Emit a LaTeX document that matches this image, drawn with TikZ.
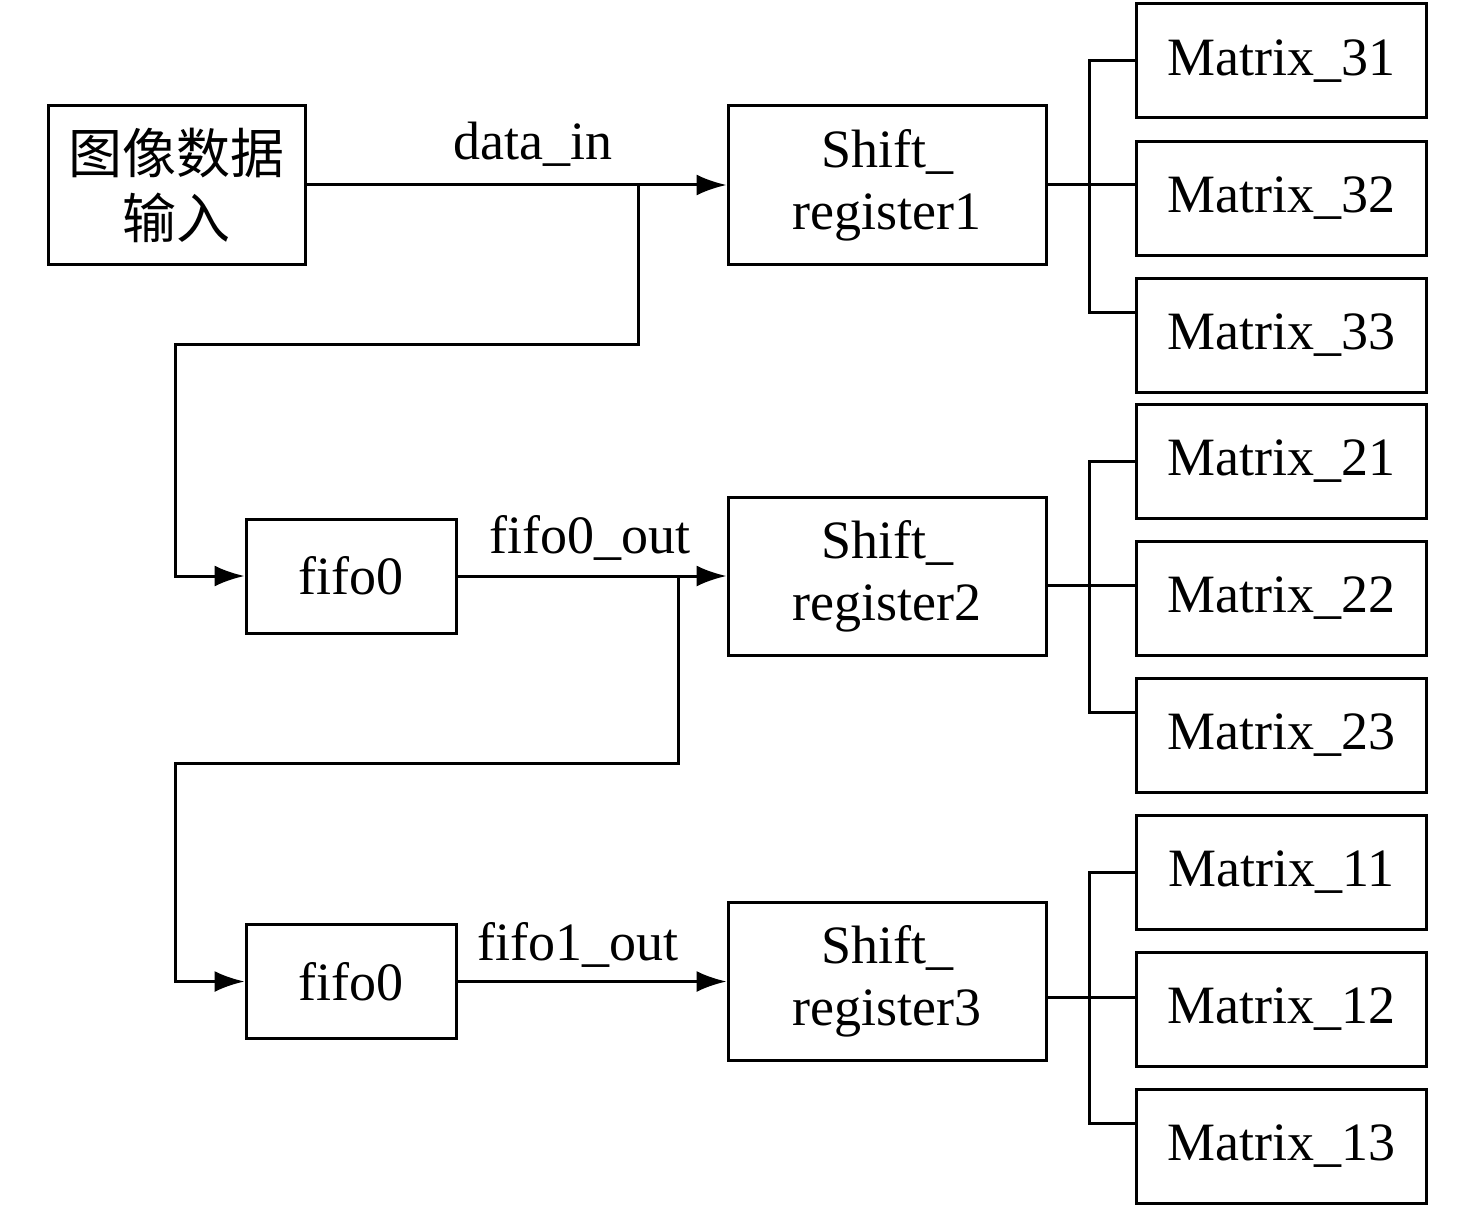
\documentclass[tikz,border=0pt]{standalone}
\usepackage{fontspec}
\setmainfont{Liberation Serif}
\newfontfamily\cjk{Noto Sans CJK SC}
\usetikzlibrary{arrows.meta,calc}
\begin{document}
\begin{tikzpicture}[x=0.5pt,y=-0.5pt,
  every node/.style={font=\fontsize{27pt}{31pt}\selectfont},
  box/.style={draw,line width=1.5pt,inner sep=0pt,align=center},
  srbox/.style={box,minimum width=159pt,minimum height=79pt},
  mbox/.style={box,minimum width=145pt,minimum height=57pt},
  fbox/.style={box,minimum width=105pt,minimum height=57pt},
  wire/.style={line width=1.5pt},
  arr/.style={wire,-{Latex[length=15pt,width=10.5pt]}},
  lbl/.style={anchor=base,inner sep=0pt}]
\useasboundingbox (0,0) rectangle (1476,1209);
% nodes
\node[box,minimum width=128.5pt,minimum height=79pt,font=\cjk\fontsize{27pt}{32.5pt}\selectfont] (in) at (176.5,185) {图像数据\\输入};
\node[srbox] (sr1) at (887,185) {Shift\_\\register1};
\node[srbox] (sr2) at (887,576.5) {Shift\_\\register2};
\node[srbox] (sr3) at (887,981.5) {Shift\_\\register3};
\node[fbox] (f1) at (351,576) {fifo0};
\node[fbox] (f2) at (351,981.5) {fifo0};
\node[mbox] (m31) at (1281,61) {Matrix\_31};
\node[mbox] (m32) at (1281,198.5) {Matrix\_32};
\node[mbox] (m33) at (1281,335.5) {Matrix\_33};
\node[mbox] (m21) at (1281,461.5) {Matrix\_21};
\node[mbox] (m22) at (1281,598.5) {Matrix\_22};
\node[mbox] (m23) at (1281,735.5) {Matrix\_23};
\node[mbox] (m11) at (1281,872) {Matrix\_11};
\node[mbox] (m12) at (1281,1009.5) {Matrix\_12};
\node[mbox] (m13) at (1281,1146) {Matrix\_13};
% labels
\node[lbl] (l1) at (533,160) {data\_in};
\node[lbl] (l2) at (590,553) {fifo0\_out};
\node[lbl] (l3) at (578,960) {fifo1\_out};
% main arrows
\draw[arr] (in.east) -- (sr1.west);
\draw[arr] (f1.east) -- (f1.east -| sr2.west);
\draw[arr] (f2.east) -- (f2.east -| sr3.west);
% branches
\coordinate (b1) at (638,185);
\coordinate (b2) at (678,576);
\draw[arr] (b1) |- (175,344) |- (f1.west);
\draw[arr] (b2) |- (175,763) |- (f2.west);
% buses
\draw[wire] (sr1.east) -- (sr1.east -| m32.west);
\draw[wire] (m31.west) -- ++(-45,0) |- ([yshift=11.75pt]m33.west);
\draw[wire] ([yshift=-4.25pt]sr2.east) -- ([yshift=-4.25pt]sr2.east -| m22.west);
\draw[wire] (m21.west) -- ++(-45,0) |- ([yshift=11.75pt]m23.west);
\draw[wire] ([yshift=-7.75pt]sr3.east) -- ([yshift=-7.75pt]sr3.east -| m12.west);
\draw[wire] (m11.west) -- ++(-45,0) |- ([yshift=11.5pt]m13.west);
\end{tikzpicture}
\end{document}
